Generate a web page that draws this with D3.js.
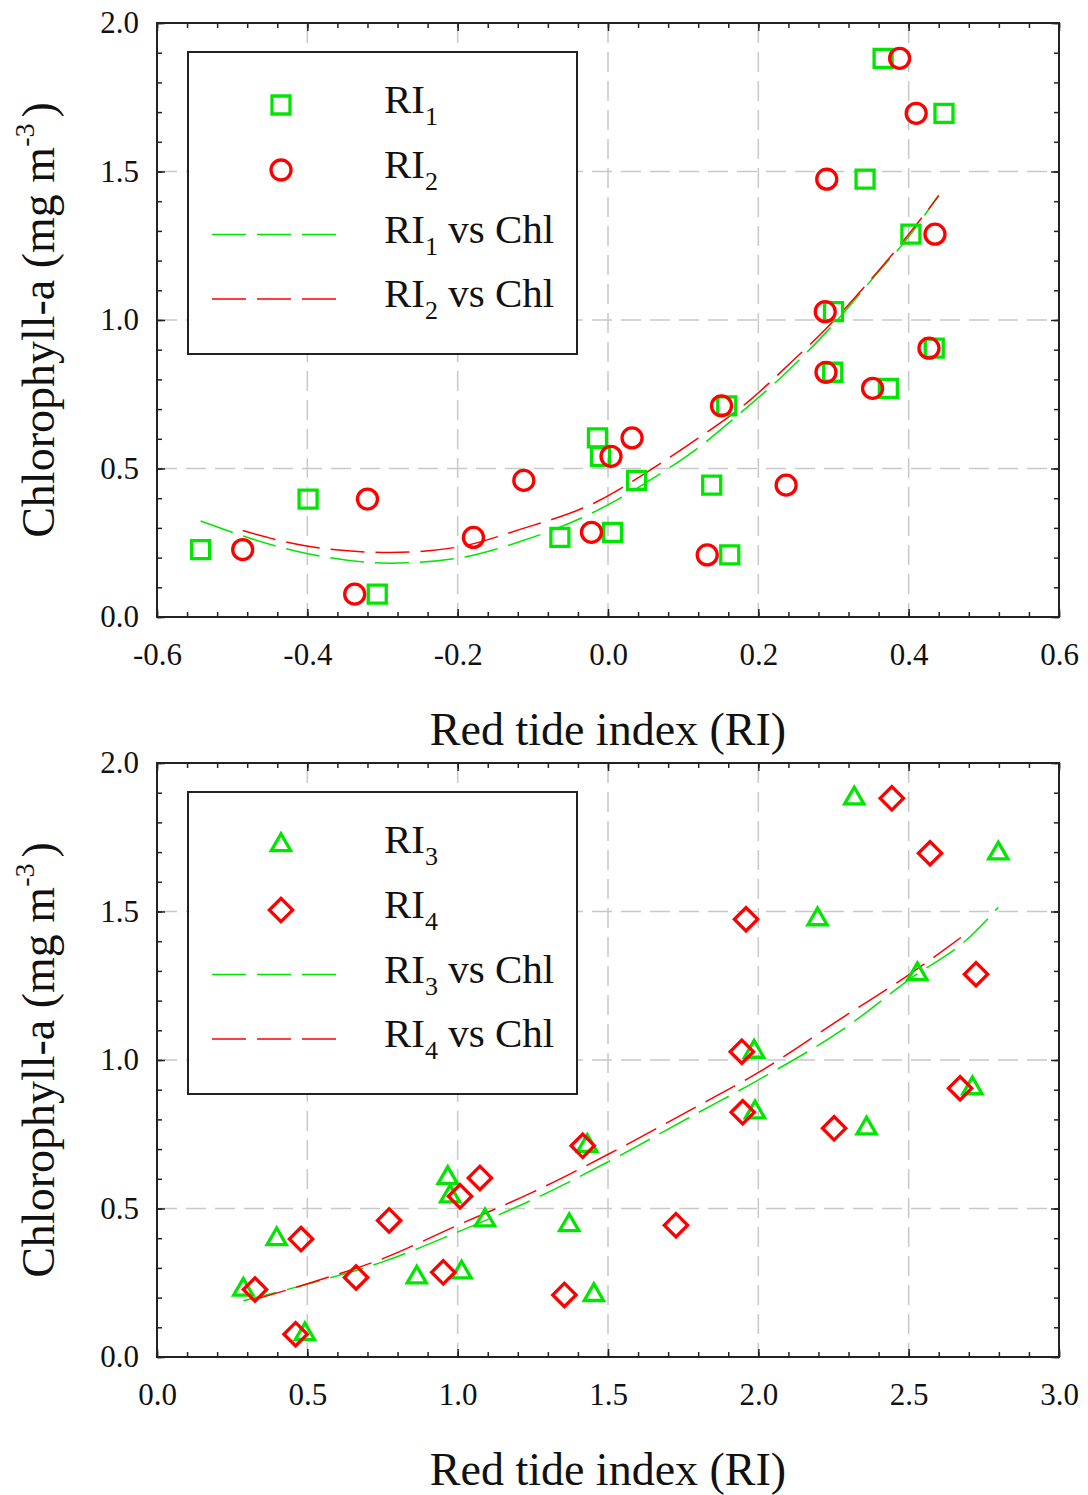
<!DOCTYPE html>
<html>
<head>
<meta charset="utf-8">
<script src="https://cdn.jsdelivr.net/npm/d3@7"></script>
<style>
  body { margin: 0; background: #fff; }
  svg text { font-family: "Liberation Serif", "Times New Roman", serif; fill: #111; }
</style>
</head>
<body>
<div id="chart"></div>
<script>
// shared chlorophyll values (y) for every index
const chl = [1.881, 1.696, 1.474, 1.289, 1.028, 0.905, 0.824, 0.770, 0.711, 0.603,
             0.541, 0.460, 0.444, 0.397, 0.285, 0.268, 0.227, 0.209, 0.077];

// red tide index values, same order as chl
const ri1 = [0.366, 0.447, 0.342, 0.403, 0.300, 0.434, 0.299, 0.373, 0.158, -0.014,
             -0.010, 0.038, 0.138, -0.399, 0.006, -0.064, -0.542, 0.162, -0.307];
const ri2 = [0.388, 0.410, 0.291, 0.435, 0.289, 0.427, 0.290, 0.352, 0.151, 0.032,
             0.004, -0.112, 0.237, -0.320, -0.022, -0.179, -0.486, 0.132, -0.337];
const ri3 = [2.319, 2.798, 2.197, 2.529, 1.986, 2.712, 1.989, 2.360, 1.431, 0.967,
             0.975, 1.091, 1.371, 0.398, 1.013, 0.864, 0.287, 1.453, 0.492];
const ri4 = [2.444, 2.571, 1.959, 2.724, 1.945, 2.671, 1.948, 2.252, 1.416, 1.074,
             1.008, 0.772, 1.726, 0.479, 0.952, 0.662, 0.326, 1.355, 0.461];

// fitted curves
const fit1X = [-0.542, -0.401, -0.290, -0.201, -0.117, -0.015, 0.065, 0.125, 0.165, 0.229, 0.289, 0.358, 0.400, 0.440];
const fit1Y = [0.323, 0.214, 0.181, 0.198, 0.254, 0.358, 0.475, 0.579, 0.663, 0.804, 0.955, 1.157, 1.280, 1.421];
const fit2X = [-0.486, -0.401, -0.290, -0.201, -0.117, -0.015, 0.060, 0.120, 0.185, 0.243, 0.289, 0.342, 0.391, 0.440];
const fit2Y = [0.291, 0.239, 0.217, 0.235, 0.295, 0.388, 0.501, 0.602, 0.722, 0.856, 0.968, 1.114, 1.260, 1.418];
const fit3X = [0.287, 0.498, 0.753, 0.996, 1.250, 1.496, 1.795, 1.995, 2.294, 2.499, 2.704, 2.798];
const fit3Y = [0.189, 0.245, 0.321, 0.419, 0.530, 0.655, 0.820, 0.930, 1.112, 1.269, 1.415, 1.514];
const fit4X = [0.320, 0.498, 0.753, 0.996, 1.250, 1.496, 1.795, 1.995, 2.294, 2.499, 2.704];
const fit4Y = [0.192, 0.246, 0.332, 0.442, 0.555, 0.680, 0.843, 0.955, 1.152, 1.286, 1.435];

// tick values
const yTicks = [0, 0.5, 1.0, 1.5, 2.0];
const xTicksTop = [-0.6, -0.4, -0.2, 0, 0.2, 0.4, 0.6];
const xTicksBottom = [0, 0.5, 1.0, 1.5, 2.0, 2.5, 3.0];

const green = "#00e600",
      red = "#ff0000";

const width = 1088, height = 1495;

const svg = d3.select("#chart")
    .append("svg")
        .attr("width", width)
        .attr("height", height);

function drawPanel(p) {
    const g = svg.append("g")
        .attr("transform", `translate(${p.left},${p.top})`);

    const x = d3.scaleLinear().domain(p.xDomain).range([0, p.w]);
    const y = d3.scaleLinear().domain([0, 2]).range([p.h, 0]);

    const fmt = d => d.toFixed(1);

    // grid
    const grid = g.append("g").attr("class", "grid");
    grid.selectAll(".vg")
        .data(p.xTicks.slice(1, -1))
        .join("line")
            .attr("x1", d => x(d)).attr("x2", d => x(d))
            .attr("y1", 0).attr("y2", p.h);
    grid.selectAll(".hg")
        .data(yTicks.slice(1, -1))
        .join("line")
            .attr("class", "hg")
            .attr("x1", 0).attr("x2", p.w)
            .attr("y1", d => y(d)).attr("y2", d => y(d));
    grid.selectAll("line")
        .attr("stroke", "#c8c8c8")
        .attr("stroke-width", 1.5)
        .attr("stroke-dasharray", "20,9");

    // minor ticks
    const xMinor = d3.range(p.xDomain[0], p.xDomain[1] + 1e-9, p.xMinorStep);
    const yMinor = d3.range(0, 2.0001, 0.1);

    const axes = [
        [d3.axisBottom(x), `translate(0,${p.h})`, "x"],
        [d3.axisTop(x), "translate(0,0)", "x"],
        [d3.axisLeft(y), "translate(0,0)", "y"],
        [d3.axisRight(y), `translate(${p.w},0)`, "y"]
    ];
    axes.forEach(([ax, tr, dim]) => {
        g.append("g")
            .attr("transform", tr)
            .call(ax.tickValues(dim === "x" ? xMinor : yMinor)
                .tickSize(-5).tickSizeOuter(0).tickFormat(""))
            .call(s => s.select(".domain").remove());
    });
    axes.forEach(([ax, tr, dim], i) => {
        const isLabelled = i === 0 || i === 2;
        const a = g.append("g")
            .attr("transform", tr)
            .call(ax.tickValues(dim === "x" ? p.xTicks : yTicks)
                .tickSize(-8).tickSizeOuter(0)
                .tickPadding(dim === "x" ? 26 : 18)
                .tickFormat(isLabelled ? fmt : ""))
            .call(s => s.select(".domain").remove());
        a.selectAll("text")
            .style("font-size", "31px")
            .style("font-family", '"Liberation Serif", "Times New Roman", serif')
            .attr("fill", "#111");
    });
    g.selectAll(".tick line")
        .attr("stroke", "#222")
        .attr("stroke-width", 1.5);

    // frame
    g.append("rect")
        .attr("width", p.w)
        .attr("height", p.h)
        .attr("fill", "none")
        .attr("stroke", "#222")
        .attr("stroke-width", 2);

    // legend box (covers the grid)
    const lg = g.append("g")
        .attr("transform", "translate(31,29)");
    lg.append("rect")
        .attr("width", 389)
        .attr("height", 302)
        .attr("fill", "#fff")
        .attr("stroke", "#222")
        .attr("stroke-width", 2);

    // fit curves
    const line = d3.line()
        .x(d => x(d[0]))
        .y(d => y(d[1]))
        .curve(d3.curveMonotoneX);
    p.fits.forEach(f => {
        g.append("path")
            .datum(d3.zip(f.xs, f.ys))
            .attr("d", line)
            .attr("fill", "none")
            .attr("stroke", f.color)
            .attr("stroke-width", 1.5)
            .attr("stroke-dasharray", "34,11");
    });

    // points
    p.series.forEach(s => {
        g.append("g")
            .selectAll("path")
            .data(d3.zip(s.xs, chl))
            .join("path")
                .attr("d", d3.symbol().type(s.symbol).size(s.size))
                .attr("transform", d => `translate(${x(d[0])},${y(d[1])})rotate(${s.rotate || 0})`)
                .attr("fill", "none")
                .attr("stroke", s.color)
                .attr("stroke-width", 3.3);
    });

    // legend entries
    const rows = [53, 118, 182.5, 247];
    p.series.forEach((s, i) => {
        lg.append("path")
            .attr("d", d3.symbol().type(s.symbol).size(s.size))
            .attr("transform", `translate(93,${rows[i]})rotate(${s.rotate || 0})`)
            .attr("fill", "none")
            .attr("stroke", s.color)
            .attr("stroke-width", 3.3);
    });
    p.fits.forEach((f, i) => {
        lg.append("line")
            .attr("x1", 24).attr("x2", 149)
            .attr("y1", rows[i + 2]).attr("y2", rows[i + 2])
            .attr("stroke", f.color)
            .attr("stroke-width", 1.5)
            .attr("stroke-dasharray", "34,11");
    });
    p.labels.forEach((lab, i) => {
        const t = lg.append("text")
            .attr("x", 196)
            .attr("y", rows[i] + 8)
            .style("font-size", "41px");
        t.append("tspan").text("RI");
        t.append("tspan")
            .attr("dy", 12)
            .style("font-size", "26px")
            .text(lab.sub);
        if (lab.rest) {
            t.append("tspan")
                .attr("dy", -12)
                .text(lab.rest);
        }
    });

    // axis titles
    g.append("text")
        .attr("x", p.w / 2)
        .attr("y", p.h + 128)
        .attr("text-anchor", "middle")
        .style("font-size", "46px")
        .text("Red tide index (RI)");

    const yt = g.append("text")
        .attr("transform", `translate(${54 - p.left},${p.h / 2})rotate(-90)`)
        .attr("text-anchor", "middle")
        .style("font-size", "46px");
    yt.append("tspan").text("Chlorophyll-a (mg m");
    yt.append("tspan")
        .attr("dy", -20)
        .style("font-size", "28px")
        .text("-3");
    yt.append("tspan")
        .attr("dy", 20)
        .attr("dx", 6)
        .text(")");
}

drawPanel({
    left: 157, top: 23, w: 902, h: 594,
    xDomain: [-0.6, 0.6], xTicks: xTicksTop, xMinorStep: 0.04,
    series: [
        {xs: ri1, color: green, symbol: d3.symbolSquare, size: 324},
        {xs: ri2, color: red, symbol: d3.symbolCircle, size: 314}
    ],
    fits: [
        {xs: fit1X, ys: fit1Y, color: green},
        {xs: fit2X, ys: fit2Y, color: red}
    ],
    labels: [
        {sub: "1"}, {sub: "2"},
        {sub: "1", rest: " vs Chl"}, {sub: "2", rest: " vs Chl"}
    ]
});

drawPanel({
    left: 157, top: 763, w: 902, h: 594,
    xDomain: [0, 3], xTicks: xTicksBottom, xMinorStep: 0.1,
    series: [
        {xs: ri3, color: green, symbol: d3.symbolTriangle, size: 160},
        {xs: ri4, color: red, symbol: d3.symbolSquare, size: 272, rotate: 45}
    ],
    fits: [
        {xs: fit3X, ys: fit3Y, color: green},
        {xs: fit4X, ys: fit4Y, color: red}
    ],
    labels: [
        {sub: "3"}, {sub: "4"},
        {sub: "3", rest: " vs Chl"}, {sub: "4", rest: " vs Chl"}
    ]
});
</script>
</body>
</html>
